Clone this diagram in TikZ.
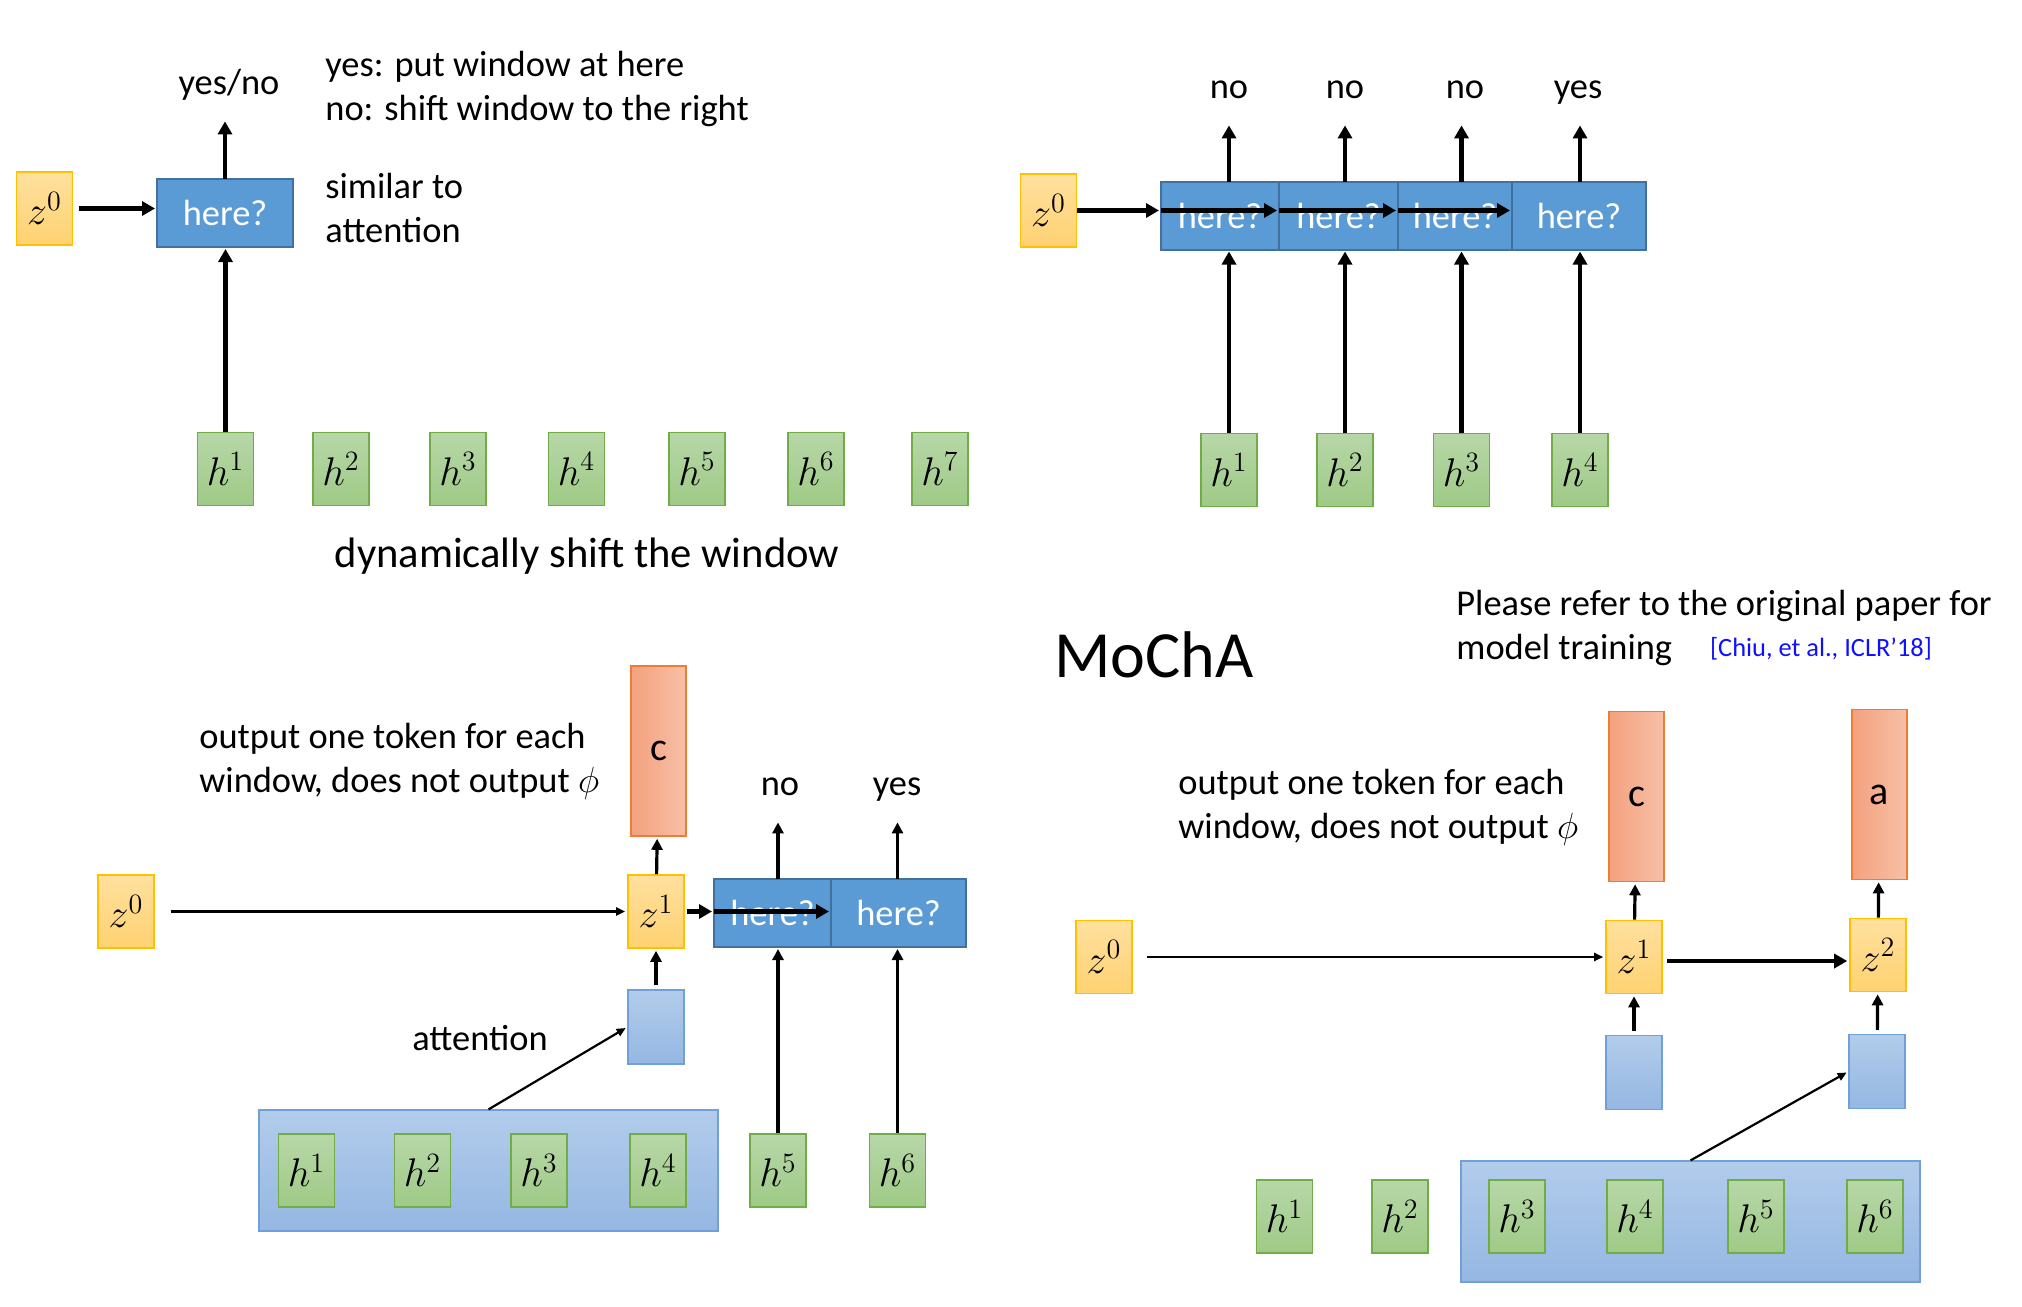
\RequirePackage{fix-cm}
\documentclass[tikz,border=0pt]{standalone}
\usepackage{fontspec}
\setmainfont{Carlito}
\usetikzlibrary{arrows.meta,positioning}

\definecolor{zTop}{HTML}{FFE09E}
\definecolor{zBot}{HTML}{FFD272}
\definecolor{zLine}{HTML}{FFC000}
\definecolor{hTop}{HTML}{B7D7A8}
\definecolor{hBot}{HTML}{9FCA86}
\definecolor{hLine}{HTML}{70AD47}
\definecolor{qFill}{HTML}{5B9BD5}
\definecolor{qLine}{HTML}{41719C}
\definecolor{oLeft}{HTML}{F4A17E}
\definecolor{oRight}{HTML}{F7C0A7}
\definecolor{oLine}{HTML}{ED7D31}
\definecolor{aTop}{HTML}{B2CCEB}
\definecolor{aBot}{HTML}{95B7E2}
\definecolor{aLine}{HTML}{6FA0D8}
\definecolor{cite}{HTML}{1010FF}

\newcommand{\notesize}{\fontsize{18.2}{22}\selectfont}
\newcommand{\symsize}{\fontsize{20}{24}\selectfont}

\begin{document}
\begin{tikzpicture}[x=0.5pt, y=-0.5pt,
    zbox/.style={draw=zLine, line width=0.8pt, top color=zTop, bottom color=zBot,
      minimum width=28pt, minimum height=36.5pt, inner sep=0pt, font=\symsize},
    hbox/.style={draw=hLine, line width=0.8pt, top color=hTop, bottom color=hBot,
      minimum width=28pt, minimum height=36.5pt, inner sep=0pt, font=\symsize},
    qbox/.style={draw=qLine, line width=1pt, fill=qFill, text=white,
      minimum height=34pt, inner sep=0pt, outer sep=0pt, font=\notesize},
    obox/.style={draw=oLine, line width=0.8pt, left color=oLeft, right color=oRight,
      minimum width=27.5pt, minimum height=85pt, inner sep=0pt,
      font=\fontsize{20}{24}\selectfont},
    abox/.style={draw=aLine, line width=0.6pt, top color=aTop, bottom color=aBot,
      minimum width=28pt, minimum height=37pt, inner sep=0pt},
    wbox/.style={abox, minimum width=229.5pt, minimum height=60.5pt},
    lbl/.style={font=\notesize, inner xsep=0pt, text depth=4pt, inner ysep=8.5pt},
    note/.style={font=\notesize, align=left, inner sep=0pt, anchor=north west},
    bigarr/.style={line width=2.2pt, -{Triangle[length=6.5pt,width=7pt]}, shorten >=1pt},
    arr/.style={line width=1.6pt, -{Triangle[length=5.5pt,width=5.5pt]}, shorten >=1pt},
    thinarr/.style={line width=1.1pt, -{Triangle[length=4.5pt,width=4pt]}, shorten >=1pt},
  ]
  \useasboundingbox (0,0) rectangle (2022,1306);

  % Top left: one window position
  \node[zbox] (za0) at (44.5,208.5) {$z^0$};
  \node[qbox, minimum width=68pt] (qa) at (225,213) {here?};
  \node[lbl, anchor=base] (ya) at (229,94) {yes/no};
  \node[note] (ta) at (325,51) {yes: put window at here\\no: shift window to the right};
  \node[note] (tb) at (325,173) {similar to\\attention};
  \foreach \i/\x in {1/225.5,2/341,3/458,4/576.5,5/697,6/816,7/940}
    \node[hbox] (ha\i) at (\x,469) {$h^{\i}$};
  \node[font=\fontsize{21.3}{26}\selectfont, anchor=base] (dyn) at (587,567) {dynamically shift the window};

  \draw[bigarr, shorten <=3pt] (za0.east) -- (za0.east -| qa.west);
  \draw[bigarr] (ha1.north) -- (ha1.north |- qa.south);
  \draw[bigarr] (qa.north) -- (qa.north |- ya.south);

  % Top right: window shifted step by step
  \node[zbox] (zb0) at (1048.5,210.5) {$z^0$};
  \node[qbox, minimum width=59pt] (qb1) at (1220,215.5) {here?};
  \node[qbox, minimum width=59.5pt, right=0pt of qb1] (qb2) {here?};
  \node[qbox, minimum width=57pt, right=0pt of qb2] (qb3) {here?};
  \node[qbox, minimum width=67pt, right=0pt of qb3] (qb4) {here?};
  \foreach \i/\x in {1/1229,2/1345,3/1461.5,4/1580}
    \node[hbox] (hb\i) at (\x,470) {$h^{\i}$};
  \foreach \i/\x/\t in {1/1229/no,2/1345/no,3/1465/no,4/1578/yes}
    \node[lbl, anchor=base] (lb\i) at (\x,98) {\t};

  \foreach \i in {1,...,4} {
    \draw[bigarr] (hb\i.north) -- (hb\i.north |- qb\i.south);
    \draw[bigarr] (hb\i.north |- qb\i.north) -- (hb\i.north |- lb\i.south);
  }
  \draw[bigarr] (zb0.east) -- (zb0.east -| qb1.west);
  \draw[bigarr] (zb0.east -| qb1.west) -- (zb0.east -| qb2.west);
  \draw[bigarr] (zb0.east -| qb2.west) -- (zb0.east -| qb3.west);
  \draw[bigarr] (zb0.east -| qb3.west) -- (zb0.east -| qb4.west);

  % Bottom left: attention inside the window
  \node[wbox] (wc) at (488.5,1170.5) {};
  \foreach \i/\x in {1/306.5,2/422.5,3/539,4/658,5/778,6/897.5}
    \node[hbox] (hc\i) at (\x,1170.5) {$h^{\i}$};
  \node[zbox] (zc0) at (126,911.5) {$z^0$};
  \node[zbox] (zc1) at (656,911.5) {$z^1$};
  \node[obox] (oc1) at (658.5,751) {c};
  \node[abox] (ac1) at (656,1027) {};
  \node[qbox, minimum width=58.5pt] (qc1) at (772.5,913) {here?};
  \node[qbox, minimum width=67.5pt, right=0pt of qc1] (qc2) {here?};
  \node[lbl, anchor=base] (lc1) at (780,795) {no};
  \node[lbl, anchor=base] (lc2) at (897,795) {yes};
  \node[note] (tc) at (199,723) {output one token for each\\window, does not output $\phi$};
  \node[font=\notesize, anchor=base] (atc) at (480,1050) {attention};

  \draw[thinarr, shorten <=8pt] (zc0) -- (zc1);
  \draw[arr] (zc1) -- (oc1);
  \draw[arr, shorten <=2pt] (ac1) -- (zc1);
  \draw[thinarr] (wc.north) -- (ac1.west);
  \draw[bigarr, shorten <=1pt] (zc1.east) -- (zc1.east -| qc1.west);
  \draw[bigarr] (zc1.east -| qc1.west) -- (zc1.east -| qc2.west);
  \foreach \i/\j in {1/5,2/6} {
    \draw[arr] (hc\j.north) -- (hc\j.north |- qc\i.south);
    \draw[arr] (hc\j.north |- qc\i.north) -- (hc\j.north |- lc\i.south);
  }

  % Bottom right: MoChA
  \node[font=\fontsize{33}{40}\selectfont, anchor=base west] (mocha) at (1047,677) {MoChA};
  \node[note] (ref) at (1456,590) {Please refer to the original paper for\\model training};
  \node[font=\fontsize{13.2}{16}\selectfont, text=cite, anchor=base west] (cite) at (1703,656) {[Chiu, et al., ICLR’18]};
  \node[note] (td) at (1178,769) {output one token for each\\window, does not output $\phi$};
  \node[wbox] (wd) at (1690.5,1221.5) {};
  \foreach \i/\x in {1/1284.5,2/1400,3/1517,4/1635,5/1756,6/1875}
    \node[hbox] (hd\i) at (\x,1216.5) {$h^{\i}$};
  \node[zbox] (zd0) at (1104,957) {$z^0$};
  \node[zbox] (zd1) at (1634,957) {$z^1$};
  \node[zbox] (zd2) at (1878,955) {$z^2$};
  \node[obox] (od1) at (1636.5,796.5) {c};
  \node[obox] (od2) at (1879.5,794.5) {a};
  \node[abox] (ad1) at (1634,1072.5) {};
  \node[abox] (ad2) at (1877,1071.5) {};

  \draw[thinarr, shorten <=7pt] (zd0) -- (zd1);
  \draw[bigarr, shorten <=2pt] ([yshift=-2pt]zd1.east) -- ([yshift=-2pt]zd1.east -| zd2.west);
  \draw[arr] (zd1) -- (od1);
  \draw[arr] (zd2) -- (od2);
  \draw[arr, shorten <=2pt] (ad1) -- (zd1);
  \draw[arr, shorten <=2pt] (ad2) -- (zd2);
  \draw[thinarr] (wd.north) -- (ad2.west);
\end{tikzpicture}
\end{document}
